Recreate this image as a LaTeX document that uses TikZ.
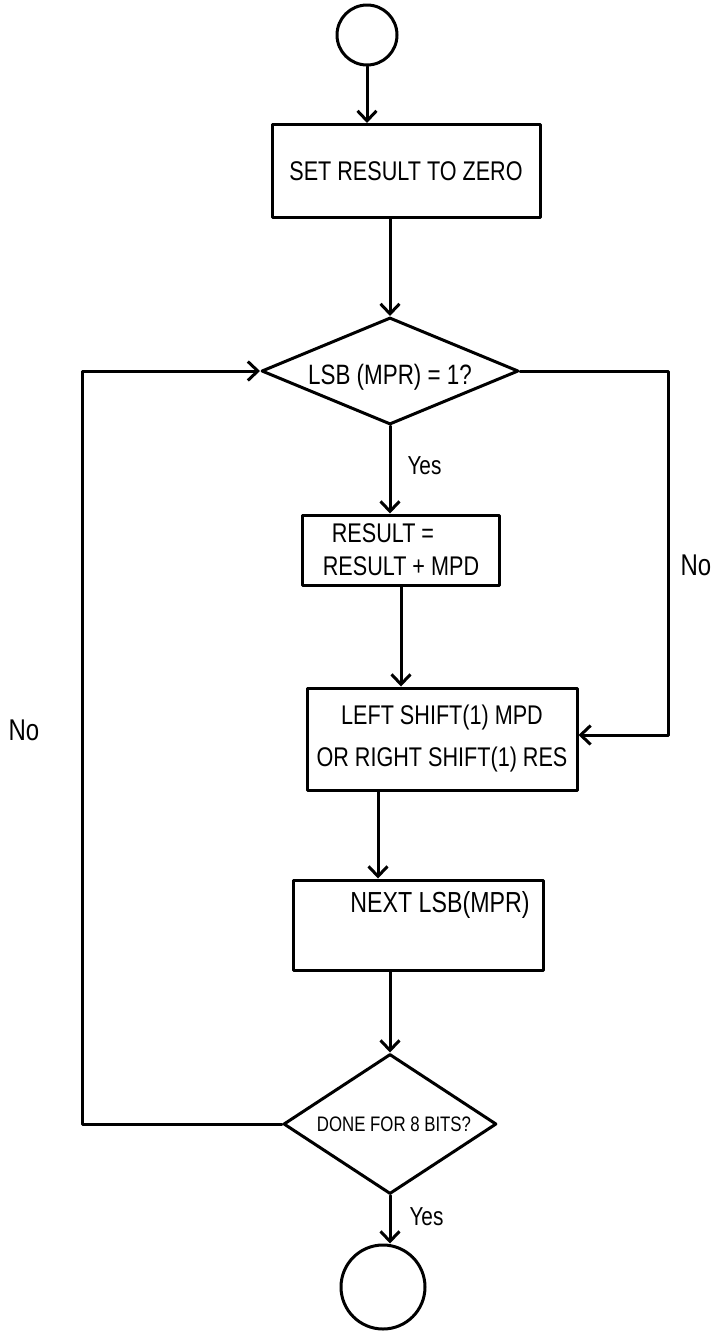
\documentclass[tikz,border=0pt]{standalone}
\usepackage{fontspec}
\setmainfont{Liberation Sans}
\newfontfamily\handfont[FakeStretch=0.8]{Liberation Sans}
\usetikzlibrary{shapes.geometric,arrows.meta,calc}
\tikzset{
  line/.style={line width=3pt, line cap=round, line join=round},
  arr/.style={line, -{Straight Barb[length=10pt,width=19pt,line width=3pt]}},
  boxn/.style={line, draw, rectangle, inner sep=0pt},
  dia/.style={line, draw, diamond, inner sep=0pt},
  term/.style={line, draw, circle, inner sep=0pt},
  txt/.style={font=\handfont\fontsize{27}{33}\selectfont, inner sep=0pt},
  lbl/.style={font=\handfont\fontsize{26}{30}\selectfont, inner sep=0pt}
}
\begin{document}
\begin{tikzpicture}[x=1pt,y=-1pt]
\useasboundingbox (0,0) rectangle (719,1333);
% nodes
\node[term, minimum size=60] (s) at (367,35) {};
\node[boxn, minimum width=268, minimum height=93, txt] (b1) at (406,171) {SET RESULT TO ZERO};
\node[dia, minimum width=257, minimum height=107,
      label={[txt, font=\handfont\fontsize{28}{33}\selectfont, yshift=-6pt]center:LSB (MPR) = 1?}] (d1) at (390,371) {};
\node[boxn, minimum width=197, minimum height=70, txt, align=left] (b2) at (401,550) {\,\,RESULT =\\RESULT + MPD};
\node[boxn, minimum width=270, minimum height=102, txt, align=center,
      font=\handfont\fontsize{27}{42}\selectfont] (b3) at (442,739) {LEFT SHIFT(1) MPD\\OR RIGHT SHIFT(1) RES};
\node[boxn, minimum width=250, minimum height=90,
      label={[txt, font=\handfont\fontsize{29}{33}\selectfont, xshift=22pt, yshift=20pt]center:NEXT LSB(MPR)}] (b4) at (418,925) {};
\node[dia, minimum width=213, minimum height=140,
      label={[txt, font=\handfont\fontsize{21}{25}\selectfont, xshift=4pt]center:DONE FOR 8 BITS?}] (d2) at (390,1124) {};
\node[term, minimum size=84] (e) at (383,1287) {};
% helper coordinates
\coordinate (rc) at (668,735);
\coordinate (lc) at (82,740);
% connectors
\draw[arr] (s.south) -- (s.south |- b1.north);
\draw[arr] (b1.south -| d1.north) -- (d1.north);
\draw[arr] (d1.south) -- (d1.south |- b2.north)
  node[lbl, pos=0.45, right=16pt] (y1) {Yes};
\draw[arr] (b2.south) -- (b2.south |- b3.north);
\draw[arr] (b3.south -| b4.north) ++(-40,0) coordinate (b3o) -- (b3o |- b4.north);
\draw[arr] (b4.south -| d2.north) -- (d2.north);
\draw[arr] (d1.east) -- (d1.east -| rc) -- (rc) -- (rc -| b3.east);
\node[lbl, font=\handfont\fontsize{30}{34}\selectfont] (n1) at (696,565) {No};
\draw[arr] (d2.west) -| (lc) |- (d1.west);
\node[lbl, font=\handfont\fontsize{30}{34}\selectfont] (n2) at (24,730) {No};
\draw[arr] (d2.south) -- (d2.south |- e.north)
  node[lbl, pos=0.45, right=18pt] (y2) {Yes};
\end{tikzpicture}
\end{document}
